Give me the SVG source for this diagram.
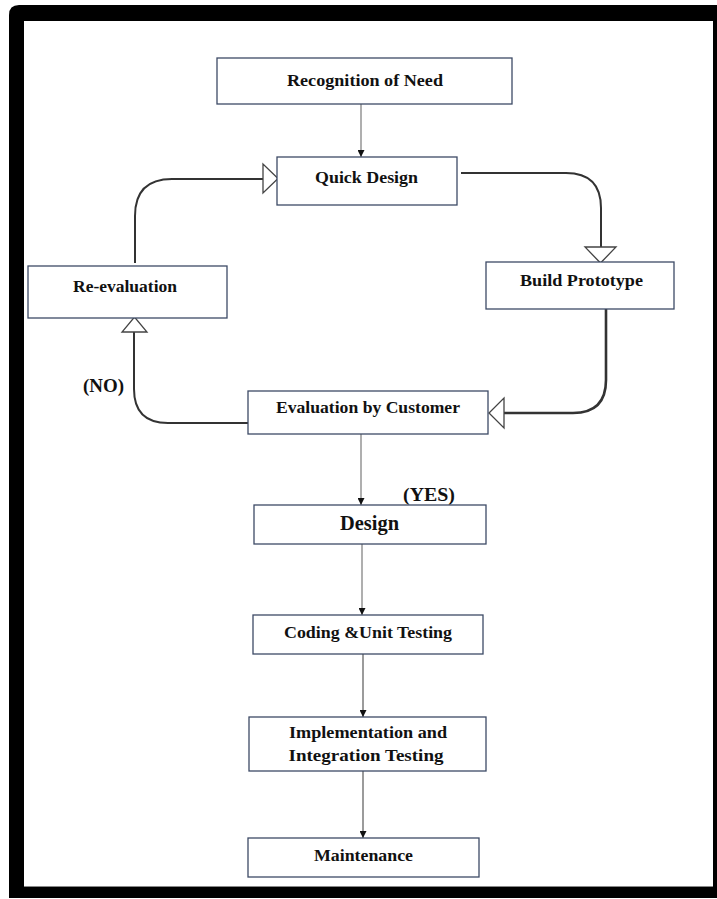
<svg xmlns="http://www.w3.org/2000/svg" width="717" height="899" viewBox="0 0 717 899">
<style>
.box{fill:#fff;stroke:#3d4a66;stroke-width:1.3}
.t{font-family:"Liberation Serif","Times New Roman",serif;font-weight:bold;font-size:17.5px;fill:#111;text-anchor:middle}
.thin{fill:none;stroke:#7a7a7a;stroke-width:1.2}
.curve{fill:none;stroke:#333;stroke-width:2}
.hollow{fill:#fff;stroke:#444;stroke-width:1.3}
</style>
<defs>
<marker id="ah" viewBox="0 0 10 10" refX="10" refY="5" markerWidth="7" markerHeight="7" markerUnits="userSpaceOnUse" orient="auto">
<path d="M0,0 L10,5 L0,10 z" fill="#111"/>
</marker>
</defs>
<g id="frame">
<path d="M19,5 H717 V898 H9 V15 Q9,5 19,5 Z" fill="#000"/>
<rect x="24" y="21" width="689" height="866" fill="#fff"/>
<line x1="24" y1="886.5" x2="713" y2="886.5" stroke="#888" stroke-width="1"/>
</g>
<g id="connectors">
<line class="thin" x1="361" y1="104" x2="361" y2="157" marker-end="url(#ah)"/>
<path class="curve" d="M461,173 H566 Q601,173 601,208 V247"/>
<polygon class="hollow" points="585,247 616,247 600.5,263"/>
<path class="curve" style="stroke-width:2.6" d="M606,309 V380 Q606,413 573,413 H504"/>
<polygon class="hollow" points="504,398 504,428 489,413"/>
<path class="curve" d="M248,423 H168 Q134,423 134,389 V332"/>
<polygon class="hollow" points="122,332 147,332 134.5,317"/>
<path class="curve" d="M135,263 V216 Q135,179 172,179 H263"/>
<polygon class="hollow" points="263,164 263,193 278,178.5"/>
<line class="thin" x1="361" y1="434" x2="361" y2="505" marker-end="url(#ah)"/>
<line class="thin" x1="362" y1="544" x2="362" y2="615" marker-end="url(#ah)"/>
<line class="thin" style="stroke-width:1.5" x1="363" y1="654" x2="363" y2="717" marker-end="url(#ah)"/>
<line class="thin" style="stroke-width:1.5" x1="363" y1="771" x2="363" y2="838" marker-end="url(#ah)"/>
</g>
<g id="recognition">
<rect class="box" x="217" y="58" width="295" height="46"/>
<text class="t" x="365" y="86" textLength="156" lengthAdjust="spacingAndGlyphs">Recognition of Need</text>
</g>
<g id="quick-design">
<rect class="box" x="277" y="157" width="180" height="48"/>
<text class="t" x="366.5" y="183" textLength="103" lengthAdjust="spacingAndGlyphs">Quick Design</text>
</g>
<g id="re-evaluation">
<rect class="box" x="28" y="266" width="199" height="52"/>
<text class="t" x="125" y="292" textLength="104" lengthAdjust="spacingAndGlyphs">Re-evaluation</text>
</g>
<g id="build-prototype">
<rect class="box" x="486" y="262" width="188" height="47"/>
<text class="t" x="581.5" y="286" textLength="123" lengthAdjust="spacingAndGlyphs">Build Prototype</text>
</g>
<g id="evaluation">
<rect class="box" x="248" y="391" width="240" height="43"/>
<text class="t" x="368" y="413" textLength="184" lengthAdjust="spacingAndGlyphs">Evaluation by Customer</text>
</g>
<g id="no-label"><text class="t" x="103.5" y="392" style="font-size:18.5px" textLength="41" lengthAdjust="spacingAndGlyphs">(NO)</text></g>
<g id="yes-label"><text class="t" x="429" y="501" style="font-size:18.5px" textLength="52" lengthAdjust="spacingAndGlyphs">(YES)</text></g>
<g id="design">
<rect class="box" x="254" y="505" width="232" height="39"/>
<text class="t" x="369.5" y="530" style="font-size:20px" textLength="59" lengthAdjust="spacingAndGlyphs">Design</text>
</g>
<g id="coding">
<rect class="box" x="253" y="615" width="230" height="39"/>
<text class="t" x="368" y="638" textLength="168" lengthAdjust="spacingAndGlyphs">Coding &amp;Unit Testing</text>
</g>
<g id="implementation">
<rect class="box" x="249" y="717" width="237" height="54"/>
<text class="t" x="368" y="738" textLength="158" lengthAdjust="spacingAndGlyphs">Implementation and</text>
<text class="t" x="366" y="761" textLength="155" lengthAdjust="spacingAndGlyphs">Integration Testing</text>
</g>
<g id="maintenance">
<rect class="box" x="248" y="838" width="231" height="39"/>
<text class="t" x="363.5" y="861" textLength="99" lengthAdjust="spacingAndGlyphs">Maintenance</text>
</g>
</svg>
